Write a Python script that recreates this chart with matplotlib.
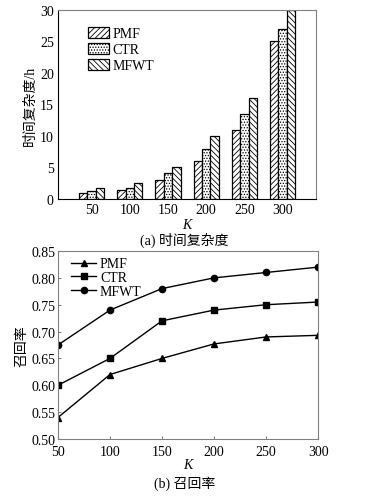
import numpy as np
import matplotlib.pyplot as plt

plt.rcParams["font.family"] = ["Liberation Serif", "Noto Sans CJK SC"]
plt.rcParams["hatch.linewidth"] = 0.6

k_values = [50, 100, 150, 200, 250, 300]

time_pmf = [1.0, 1.5, 3.0, 6.0, 11.0, 25.0]
time_ctr = [1.3, 1.8, 4.1, 8.0, 13.5, 27.0]
time_mfwt = [1.7, 2.5, 5.0, 10.0, 16.0, 30.0]

recall_pmf = [0.540, 0.620, 0.650, 0.677, 0.690, 0.693]
recall_ctr = [0.600, 0.650, 0.720, 0.740, 0.750, 0.755]
recall_mfwt = [0.675, 0.740, 0.780, 0.800, 0.810, 0.820]

spine_color = "#808080"

fig = plt.figure(figsize=(3.69, 5.02), dpi=100)

# (a) time complexity bars
ax1 = fig.add_axes([0.157, 0.6016, 0.700, 0.3765])
positions = np.arange(len(k_values))
bar_width = 0.22

ax1.bar(positions - bar_width, time_pmf, bar_width,
        color="white", edgecolor="black", linewidth=0.9,
        hatch="//////", label="PMF")
ax1.bar(positions, time_ctr, bar_width,
        color="white", edgecolor="black", linewidth=0.9,
        hatch="......", label="CTR")
ax1.bar(positions + bar_width, time_mfwt, bar_width,
        color="white", edgecolor="black", linewidth=0.9,
        hatch="\\\\\\\\\\\\", label="MFWT")

ax1.set_xlim(-0.88, 5.88)
ax1.set_ylim(0, 30)
ax1.set_xticks(positions)
ax1.set_xticklabels(k_values)
ax1.set_yticks([0, 5, 10, 15, 20, 25, 30])
ax1.tick_params(axis="both", direction="in", length=0, labelsize=10, pad=3)
ax1.set_xlabel("K", fontstyle="italic", fontsize=10, labelpad=1)
ax1.set_ylabel("时间复杂度/h", fontsize=10, labelpad=2)
for side in ["top", "right"]:
    ax1.spines[side].set_color(spine_color)
ax1.spines["left"].set_color("black")
ax1.spines["bottom"].set_color("black")
ax1.legend(loc="upper left", bbox_to_anchor=(0.085, 0.955), frameon=False,
           fontsize=10, handlelength=1.5, handleheight=0.85,
           labelspacing=0.2, handletextpad=0.25, borderaxespad=0.2)
fig.text(0.50, 0.522, "(a) 时间复杂度", ha="center", va="center", fontsize=10)

# (b) recall lines
ax2 = fig.add_axes([0.157, 0.1235, 0.705, 0.3745])
ax2.plot(k_values, recall_pmf, color="black", marker="^", markersize=5,
         linewidth=1.0, label="PMF")
ax2.plot(k_values, recall_ctr, color="black", marker="s", markersize=4.5,
         linewidth=1.0, label="CTR")
ax2.plot(k_values, recall_mfwt, color="black", marker="o", markersize=4.5,
         linewidth=1.0, label="MFWT")

ax2.set_xlim(50, 300)
ax2.set_ylim(0.50, 0.85)
ax2.set_xticks(k_values)
ax2.set_yticks(np.arange(0.50, 0.851, 0.05))
ax2.set_yticklabels([f"{v:.2f}" for v in np.arange(0.50, 0.851, 0.05)])
ax2.tick_params(axis="both", direction="in", length=2, labelsize=10,
                color=spine_color)
ax2.tick_params(axis="x", pad=4)
ax2.tick_params(axis="y", pad=2)
ax2.set_xlabel("K", fontstyle="italic", fontsize=10, labelpad=0)
ax2.set_ylabel("召回率", fontsize=10, labelpad=2)
for side in ax2.spines:
    ax2.spines[side].set_color(spine_color)
ax2.legend(loc="upper left", frameon=False, fontsize=10,
           handlelength=1.8, labelspacing=0.05, handletextpad=0.25,
           borderaxespad=0.2, bbox_to_anchor=(0.02, 1.01))
fig.text(0.50, 0.036, "(b) 召回率", ha="center", va="center", fontsize=10)

fig.savefig("out.png", dpi=100)
